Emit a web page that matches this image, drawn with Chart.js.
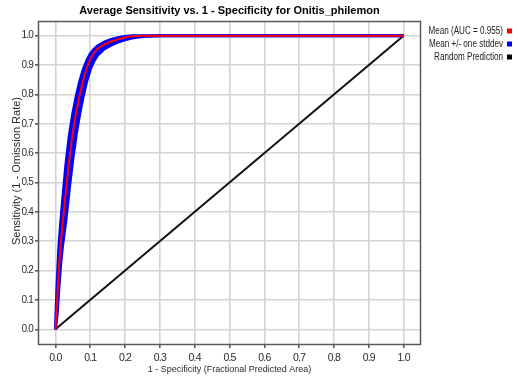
<!DOCTYPE html>
<html>
<head>
<meta charset="utf-8">
<script src="https://cdn.jsdelivr.net/npm/chart.js@4/dist/chart.umd.min.js"></script>
<style>
  html, body { margin: 0; padding: 0; background: #ffffff; }
  #wrap { width: 518px; height: 380px; }
</style>
</head>
<body>
<div id="wrap"><canvas id="roc" width="518" height="380"></canvas></div>
<script>
// Fraction of predicted area (1 - specificity)
const fpr = [0, 0.005, 0.01, 0.015, 0.02, 0.03, 0.04, 0.05, 0.06, 0.07, 0.08, 0.09, 0.10,
             0.11, 0.12, 0.14, 0.16, 0.18, 0.20, 0.22, 0.25, 0.30, 1.0];
// Mean sensitivity across replicate runs
const meanTpr = [0, 0.10, 0.21, 0.29, 0.35, 0.47, 0.58, 0.67, 0.74, 0.80, 0.85, 0.89, 0.92,
                 0.94, 0.955, 0.97, 0.98, 0.988, 0.994, 0.998, 1, 1, 1];
// Mean + one standard deviation
const upperTpr = [0, 0.16, 0.28, 0.36, 0.43, 0.56, 0.66, 0.735, 0.795, 0.845, 0.885, 0.915, 0.938,
                  0.953, 0.964, 0.978, 0.987, 0.993, 0.997, 1, 1, 1, 1];
// Mean - one standard deviation
const lowerTpr = [0, 0.05, 0.14, 0.22, 0.28, 0.37, 0.48, 0.58, 0.665, 0.735, 0.795, 0.845, 0.885,
                  0.912, 0.932, 0.955, 0.968, 0.978, 0.986, 0.992, 0.997, 1, 1];
// Random prediction diagonal
const randomX = [0, 1];
const randomY = [0, 1];
// Tick positions on both axes
const xTickValues = [0, 0.1, 0.2, 0.3, 0.4, 0.5, 0.6, 0.7, 0.8, 0.9, 1.0];
const yTickValues = [0, 0.1, 0.2, 0.3, 0.4, 0.5, 0.6, 0.7, 0.8, 0.9, 1.0];

const chartTitle = 'Average Sensitivity vs. 1 - Specificity for Onitis_philemon';
const xTitle = '1 - Specificity (Fractional Predicted Area)';
const yTitle = 'Sensitivity (1 - Omission Rate)';

// Legend entries: label text and swatch colour
const legendLabels = ['Mean (AUC = 0.955)', 'Mean +/- one stddev', 'Random Prediction'];
const legendColors = ['#ff0000', '#0000ff', '#000000'];

const pts = (xs, ys) => xs.map((x, i) => ({ x: x, y: ys[i] }));

const FONT = '"Liberation Sans", Arial, sans-serif';

const decorPlugin = {
  id: 'decor',
  beforeDraw(chart) {
    const ctx = chart.ctx;
    ctx.save();
    ctx.fillStyle = '#ffffff';
    ctx.fillRect(0, 0, chart.width, chart.height);
    ctx.restore();
    // tighter spacing for the compact tick labels
    ctx.letterSpacing = '-0.8px';
  },
  afterDraw(chart) {
    const ctx = chart.ctx;
    const a = chart.chartArea;
    const cx = (a.left + a.right) / 2;
    ctx.letterSpacing = '0px';
    ctx.save();
    // plot frame
    ctx.strokeStyle = '#5a5a5a';
    ctx.lineWidth = 1.5;
    ctx.strokeRect(Math.round(a.left) + 0.5, Math.round(a.top) + 0.5,
                   Math.round(a.right - a.left) - 1, Math.round(a.bottom - a.top));
    // chart title
    ctx.fillStyle = '#000000';
    ctx.font = 'bold 11px ' + FONT;
    ctx.textAlign = 'center';
    ctx.textBaseline = 'middle';
    ctx.fillText(chartTitle, cx, 11);
    // axis titles
    ctx.fillStyle = '#2a2a2a';
    ctx.font = '9px ' + FONT;
    ctx.fillText(xTitle, cx, 370);
    ctx.save();
    ctx.translate(17, 171);
    ctx.rotate(-Math.PI / 2);
    ctx.font = '11px ' + FONT;
    ctx.fillText(yTitle, 0, 0);
    ctx.restore();
    // legend: condensed text, right aligned, swatch after the label
    ctx.font = '10px ' + FONT;
    ctx.textAlign = 'right';
    legendLabels.forEach((label, i) => {
      const y = 31 + i * 13;
      ctx.save();
      ctx.translate(503, y);
      ctx.scale(0.81, 1);
      ctx.fillStyle = '#222222';
      ctx.fillText(label, 0, 0);
      ctx.restore();
      ctx.fillStyle = legendColors[i];
      ctx.fillRect(507, y - 2.5, 5, 5);
    });
    ctx.restore();
  }
};

new Chart(document.getElementById('roc'), {
  type: 'line',
  data: {
    datasets: [
      {
        label: legendLabels[0],
        data: pts(fpr, meanTpr),
        borderColor: '#ff0000',
        borderWidth: 2,
        pointRadius: 0,
        fill: false,
        order: 0
      },
      {
        label: 'Mean + one stddev',
        data: pts(fpr, upperTpr),
        borderColor: '#0000ff',
        backgroundColor: '#0000ff',
        borderWidth: 3,
        pointRadius: 0,
        fill: '+1',
        order: 1
      },
      {
        label: 'Mean - one stddev',
        data: pts(fpr, lowerTpr),
        borderColor: '#0000ff',
        borderWidth: 3,
        pointRadius: 0,
        fill: false,
        order: 2
      },
      {
        label: legendLabels[2],
        data: pts(randomX, randomY),
        borderColor: '#111111',
        borderWidth: 2,
        pointRadius: 0,
        fill: false,
        order: 3
      }
    ]
  },
  options: {
    responsive: false,
    animation: false,
    devicePixelRatio: 1,
    layout: { padding: { left: 0, right: 97, top: 21, bottom: 0 } },
    elements: { line: { tension: 0 } },
    plugins: {
      legend: { display: false },
      title: { display: false },
      tooltip: { enabled: false }
    },
    scales: {
      x: {
        type: 'linear',
        min: -0.05,
        max: 1.05,
        afterBuildTicks(scale) { scale.ticks = xTickValues.map(v => ({ value: v })); },
        afterFit(scale) { scale.height = 36; },
        ticks: {
          callback: v => v.toFixed(1),
          color: '#2a2a2a',
          font: { family: FONT, size: 10.5 },
          padding: 4,
          maxRotation: 0
        },
        grid: { color: '#d4d4d4', tickColor: '#5a5a5a', tickLength: 4, lineWidth: 1.6 },
        border: { display: false },
        title: { display: false }
      },
      y: {
        type: 'linear',
        min: -0.05,
        max: 1.05,
        afterBuildTicks(scale) { scale.ticks = yTickValues.map(v => ({ value: v })); },
        afterFit(scale) { scale.width = 38; },
        ticks: {
          callback: v => v.toFixed(1),
          color: '#2a2a2a',
          font: { family: FONT, size: 10 },
          padding: 2
        },
        grid: { color: '#d4d4d4', tickColor: '#5a5a5a', tickLength: 3, lineWidth: 1.6 },
        border: { display: false },
        title: { display: false }
      }
    }
  },
  plugins: [decorPlugin]
});
</script>
</body>
</html>
